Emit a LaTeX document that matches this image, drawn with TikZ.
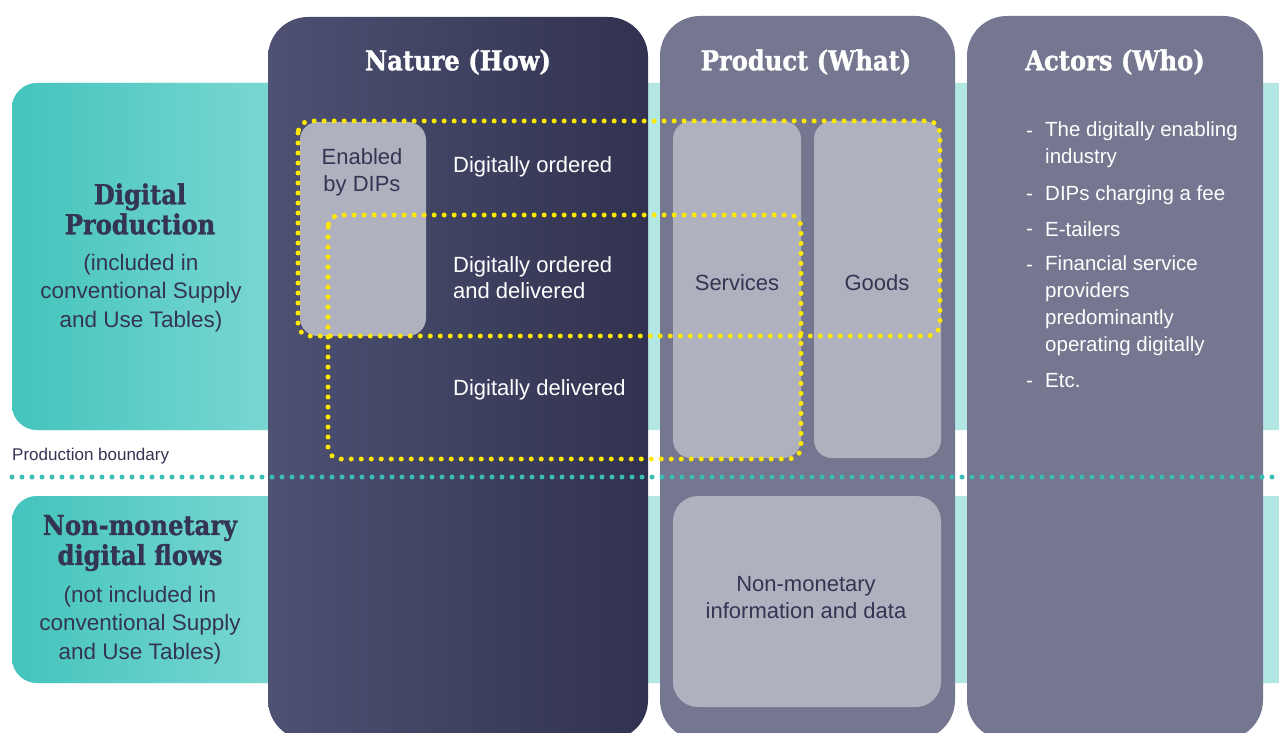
\documentclass[tikz,border=0pt]{standalone}
\usepackage{fontspec}
\setmainfont{Liberation Sans}
\newfontfamily\slab[FakeStretch=0.88, BoldFeatures={FakeBold=1.2}]{DejaVu Serif}
\definecolor{tealD}{HTML}{43C4BC}
\definecolor{tealM}{HTML}{80D9D4}
\definecolor{tealP}{HTML}{B3E7E4}
\definecolor{tealDot}{HTML}{3BBDB6}
\definecolor{navy}{HTML}{343553}
\definecolor{natL}{HTML}{4F5173}
\definecolor{natR}{HTML}{30324F}
\definecolor{colG}{HTML}{75768F}
\definecolor{boxG}{HTML}{B0B1BF}
\definecolor{yel}{HTML}{FFE900}
\tikzset{
  ydots/.style={yel, line width=5pt, dash pattern=on 0pt off 10pt, line cap=round},
  tdots/.style={tealDot, line width=5pt, dash pattern=on 0pt off 10pt, line cap=round},
  head/.style={inner sep=0pt, text=white, font=\slab\bfseries\fontsize{27.5}{30}\selectfont},
  headD/.style={inner sep=0pt, text=navy, align=center, font=\slab\bfseries\fontsize{27.5}{30}\selectfont},
  sub/.style={inner sep=0pt, text=navy, align=center, font=\fontsize{22.5}{28.5}\selectfont},
  gtxt/.style={inner sep=0pt, text=navy, align=center, font=\fontsize{22}{27}\selectfont},
  wtxt/.style={inner sep=0pt, text=white, align=left, anchor=west, font=\fontsize{22}{26}\selectfont},
  atxt/.style={inner sep=0pt, text=white, align=left, anchor=west, font=\fontsize{20.5}{27}\selectfont},
  adash/.style={inner sep=0pt, text=white, anchor=base west, font=\fontsize{20.5}{27}\selectfont},
}
\begin{document}
\begin{tikzpicture}[x=1pt,y=-1pt]
\useasboundingbox (0,0) rectangle (1279,733);
\fill[white] (0,0) rectangle (1279,733);
\clip (0,0) rectangle (1279,733);
% teal bands
\fill[tealP, rounded corners=25] (12,83) rectangle (1320,430);
\shade[left color=tealD, right color=tealM, rounded corners=25] (12,83) rectangle (300,430);
\fill[tealP, rounded corners=25] (12,496) rectangle (1320,683);
\shade[left color=tealD, right color=tealM, rounded corners=25] (12,496) rectangle (300,683);
% columns
\shade[left color=natL, right color=natR, rounded corners=40] (268,17) rectangle (648,740);
\fill[colG, rounded corners=40] (660,16) rectangle (955,740);
\fill[colG, rounded corners=40] (967,16) rectangle (1263,740);
% inner boxes
\fill[boxG, rounded corners=18] (300,122) rectangle (426,336);
\fill[boxG, rounded corners=18] (673,121) rectangle (801,458);
\fill[boxG, rounded corners=18] (814,121) rectangle (941,458);
\fill[boxG, rounded corners=25] (673,496) rectangle (941,707);
% yellow dotted outlines
\draw[ydots, rounded corners=12] (298,121) rectangle (940,336);
\draw[ydots, rounded corners=12] (328,215) rectangle (801,459);
% production boundary
\coordinate (pbL) at (12,477);
\coordinate (pbR) at (1279,477);
\draw[tdots] (pbL) -- (pbR);
\node[inner sep=0pt, anchor=west, text=navy, font=\fontsize{17}{20}\selectfont] (pbt) at (12,456) {Production boundary};
% headings
\node[head] (hN) at (458,62) {Nature (How)};
\node[head] (hP) at (806,62) {Product (What)};
\node[head] (hA) at (1115,62) {Actors (Who)};
% left band texts
\node[headD] (dp) at (140,209) {Digital\\Production};
\node[sub] (dpS) at (141,293) {(included in\\conventional Supply\\and Use Tables)};
\node[headD] (nm) at (140,543) {Non-monetary\\digital flows};
\node[sub] (nmS) at (140,625) {(not included in\\conventional Supply\\and Use Tables)};
% nature column
\node[gtxt] (en) at (362,172) {Enabled\\by DIPs};
\node[wtxt] (do) at (453,167) {Digitally ordered};
\node[wtxt] (dod) at (453,278) {Digitally ordered\\and delivered};
\node[wtxt] (dd) at (453,390) {Digitally delivered};
% product column
\node[gtxt] (sv) at (737,283) {Services};
\node[gtxt] (gd) at (877,283) {Goods};
\node[gtxt] (nmi) at (806,598) {Non-monetary\\information and data};
% actors column
\node[adash] (d1) at (1026,137.5) {-};
\node[atxt] (a1) at (1045,145) {The digitally enabling\\industry};
\node[adash] (d2) at (1026,200.5) {-};
\node[atxt] (a2) at (1045,195) {DIPs charging a fee};
\node[adash] (d3) at (1026,235.5) {-};
\node[atxt] (a3) at (1045,229) {E-tailers};
\node[adash] (d4) at (1026,271.5) {-};
\node[atxt] (a4) at (1045,306) {Financial service\\providers\\predominantly\\operating digitally};
\node[adash] (d5) at (1026,387.5) {-};
\node[atxt] (a5) at (1045,381) {Etc.};
\end{tikzpicture}
\end{document}
